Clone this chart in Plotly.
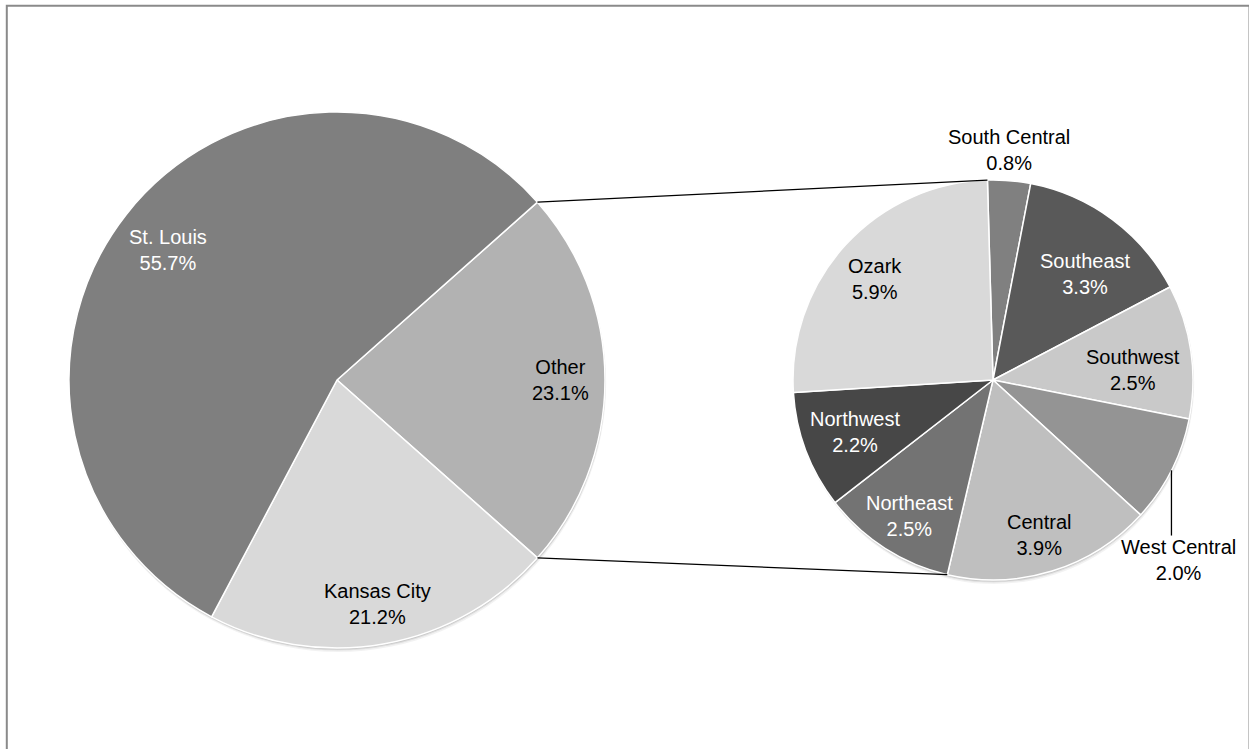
"""Pie-of-pie chart: regional share with 'Other' broken out."""

import math
import plotly.graph_objects as go

W, H = 1249, 749

# main pie
MAIN_LABELS = ["Other", "Kansas City", "St. Louis"]
MAIN_VALUES = [23.1, 21.2, 55.7]

# breakdown of "Other"
SUB_LABELS = ["South Central", "Southeast", "Southwest", "West Central",
              "Central", "Northeast", "Northwest", "Ozark"]
SUB_VALUES = [0.8, 3.3, 2.5, 2.0, 3.9, 2.5, 2.2, 5.9]

MAIN_COLORS = ["#b2b2b2", "#d9d9d9", "#7f7f7f"]
SUB_COLORS = ["#808080", "#595959", "#c9c9c9", "#949494",
              "#bfbfbf", "#737373", "#474747", "#d9d9d9"]

# label styling: (radius fraction, angle nudge in degrees, font colour)
LABEL_STYLE = {
    "Other": (0.835, 0, "black"),
    "Kansas City": (0.851, 0, "black"),
    "St. Louis": (0.797, -0.6, "white"),
    "South Central": (1.153, -0.6, "black"),
    "Southeast": (0.703, 4.5, "white"),
    "Southwest": (0.702, 4.1, "black"),
    "West Central": (1.289, 17.3, "black"),
    "Central": (0.806, 0.7, "black"),
    "Northeast": (0.797, -1.2, "white"),
    "Northwest": (0.738, 0, "white"),
    "Ozark": (0.775, -2.0, "black"),
}

FONT = "Arial, Liberation Sans, sans-serif"
FONT_SIZE = 20

# pie geometry in pixels
MAIN_C, MAIN_R = (337, 380), 268
SUB_C, SUB_R = (993, 380), 200
SUB_START = -1.6


def fx(x):
    return x / W


def fy(y):
    return 1 - y / H


def polar(c, r, ang):
    a = math.radians(ang)
    return c[0] + r * math.sin(a), c[1] - r * math.cos(a)


def slice_angles(values, start):
    total = sum(values)
    out, a = [], start
    for v in values:
        span = v / total * 360
        out.append((a, a + span, a + span / 2))
        a += span
    return out


def domain(c, r):
    return dict(x=[fx(c[0] - r), fx(c[0] + r)], y=[fy(c[1] + r), fy(c[1] - r)])


main_start = 90 - MAIN_VALUES[0] / sum(MAIN_VALUES) * 360 / 2
main_angles = slice_angles(MAIN_VALUES, main_start)
sub_angles = slice_angles(SUB_VALUES, SUB_START)

fig = go.Figure()

# soft shadow under each pie
shapes = []
for c, r in [(MAIN_C, MAIN_R), (SUB_C, SUB_R)]:
    for off, alpha in [(4, 0.05), (2.5, 0.08), (1.5, 0.10)]:
        shapes.append(dict(
            type="circle", xref="paper", yref="paper", layer="below",
            x0=fx(c[0] - r + off * 0.3), x1=fx(c[0] + r + off * 0.3),
            y0=fy(c[1] + r + off), y1=fy(c[1] - r + off * 0.5),
            fillcolor=f"rgba(0,0,0,{alpha})", line=dict(width=0),
        ))

fig.add_trace(go.Pie(
    labels=MAIN_LABELS, values=MAIN_VALUES, sort=False,
    direction="clockwise", rotation=main_start,
    marker=dict(colors=MAIN_COLORS, line=dict(color="white", width=1.5)),
    textinfo="none", hoverinfo="label+percent",
    domain=domain(MAIN_C, MAIN_R), showlegend=False,
))
fig.add_trace(go.Pie(
    labels=SUB_LABELS, values=SUB_VALUES, sort=False,
    direction="clockwise", rotation=SUB_START,
    marker=dict(colors=SUB_COLORS, line=dict(color="white", width=1.5)),
    textinfo="none", hoverinfo="label+value",
    domain=domain(SUB_C, SUB_R), showlegend=False,
))

annotations = []
for labels, values, angles, c, r in [
    (MAIN_LABELS, MAIN_VALUES, main_angles, MAIN_C, MAIN_R),
    (SUB_LABELS, SUB_VALUES, sub_angles, SUB_C, SUB_R),
]:
    for name, v, (a0, a1, mid) in zip(labels, values, angles):
        k, nudge, col = LABEL_STYLE[name]
        x, y = polar(c, r * k, mid + nudge)
        annotations.append(dict(
            x=fx(x), y=fy(y), xref="paper", yref="paper",
            text=f"{name}<br>{v:.1f}%", showarrow=False,
            xanchor="center", yanchor="middle", align="center",
            font=dict(family=FONT, size=FONT_SIZE, color=col),
        ))

# series lines from the "Other" slice edges to the second pie
p_top = polar(MAIN_C, MAIN_R, main_angles[0][0])
p_bot = polar(MAIN_C, MAIN_R, main_angles[0][1])
q_top = polar(SUB_C, SUB_R, sub_angles[0][0])
q_bot = polar(SUB_C, SUB_R, sub_angles[4][1])
for p, q in [(p_top, q_top), (p_bot, q_bot)]:
    shapes.append(dict(type="line", xref="paper", yref="paper",
                       x0=fx(p[0]), y0=fy(p[1]), x1=fx(q[0]), y1=fy(q[1]),
                       line=dict(color="black", width=1.3)))

# leader line for West Central
wc = SUB_LABELS.index("West Central")
e = polar(SUB_C, SUB_R, sub_angles[wc][2])
k, nudge, _ = LABEL_STYLE["West Central"]
lab = polar(SUB_C, SUB_R * k, sub_angles[wc][2] + nudge)
shapes.append(dict(type="line", xref="paper", yref="paper",
                   x0=fx(e[0]), y0=fy(e[1]), x1=fx(e[0]), y1=fy(lab[1] - 24),
                   line=dict(color="black", width=1.3)))

# chart area border
shapes.append(dict(type="rect", xref="paper", yref="paper",
                   x0=fx(6.8), x1=fx(1249.5), y0=fy(760), y1=fy(5.8),
                   line=dict(color="#8a8a8a", width=2), fillcolor="rgba(0,0,0,0)"))

fig.update_layout(
    width=W, height=H,
    margin=dict(l=0, r=0, t=0, b=0),
    paper_bgcolor="white", plot_bgcolor="white",
    font=dict(family=FONT, size=FONT_SIZE, color="black"),
    shapes=shapes, annotations=annotations,
)

# drop the page's default body margin so the figure sits at the window corner
fig.write_html("out.html", config={"displayModeBar": False},
               post_script="document.body.style.margin = '0';")
